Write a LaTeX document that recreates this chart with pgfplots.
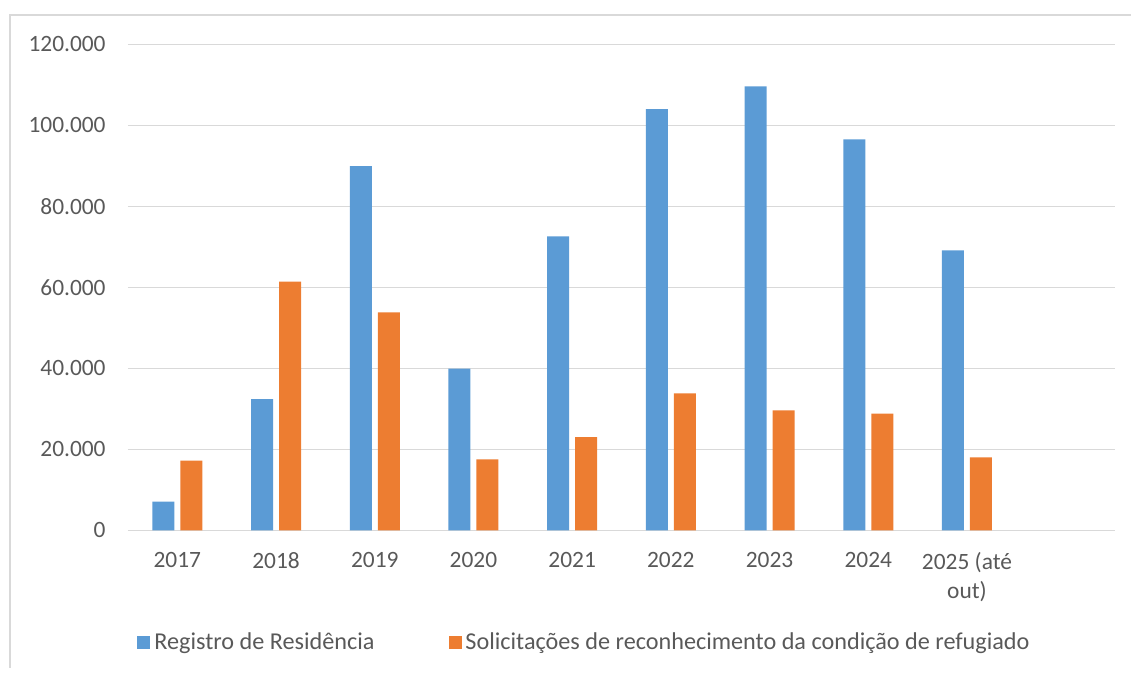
\documentclass[border=0pt]{standalone}
\usepackage{pgfplots}
\pgfplotsset{compat=1.18}
\usepackage{fontspec}
\setmainfont{Carlito}
\definecolor{cblue}{HTML}{5B9BD5}
\definecolor{corange}{HTML}{ED7D31}
\definecolor{cgrid}{HTML}{D9D9D9}
\definecolor{ctext}{HTML}{595959}
\begin{document}
\fontsize{11.25}{13.75}\selectfont
\begin{tikzpicture}
\path[use as bounding box] (0,0) rectangle (565.5pt,-336.5pt);
\draw[cgrid, line width=0.6pt] (5pt,-334pt) -- (5pt,-7.5pt) -- (565.5pt,-7.5pt);
\begin{axis}[
  at={(64pt,-265.15pt)}, anchor=south west,
  scale only axis, width=493.5pt, height=243pt,
  xmin=-0.5, xmax=9.5, ymin=0, ymax=120000,
  axis line style={draw=none},
  ymajorgrids, grid style={cgrid, line width=0.6pt},
  major tick length=0pt,
  xtick={0,...,8},
  xticklabels={2017,2018,2019,2020,2021,2022,2023,2024,{2025 (até\\out)}},
  ytick={0,20000,40000,60000,80000,100000,120000},
  yticklabels={0,20.000,40.000,60.000,80.000,100.000,120.000},
  scaled y ticks=false,
  tick label style={font=\fontsize{11.7}{14.2}\selectfont, text=ctext},
  xticklabel style={align=center, inner sep=0pt, anchor=north, yshift=-11pt},
  yticklabel style={inner sep=0pt, anchor=east, xshift=-11pt},
  ybar, bar width=11pt,
  legend columns=2,
  legend style={at={(0.0091,-0.231)}, anchor=west, draw=none, fill=none, inner sep=0pt,
    font=\fontsize{12.1}{14.5}\selectfont, text=ctext,
    /tikz/every even column/.append style={column sep=35pt}},
  legend image code/.code={\fill[#1] (0pt,-3.25pt) rectangle (6.5pt,3.25pt);},
]
\addplot[ybar, fill=cblue, draw=none, bar shift=-7pt] coordinates {
(0,7100) (1,32400) (2,89900) (3,39900) (4,72600) (5,104000) (6,109600) (7,96500) (8,69100)};
\addlegendentry{Registro de Residência}
\addplot[ybar, fill=corange, draw=none, bar shift=7pt] coordinates {
(0,17200) (1,61400) (2,53800) (3,17500) (4,23000) (5,33800) (6,29600) (7,28800) (8,18000)};
\addlegendentry{Solicitações de reconhecimento da condição de refugiado}
\end{axis}
\end{tikzpicture}
\end{document}
